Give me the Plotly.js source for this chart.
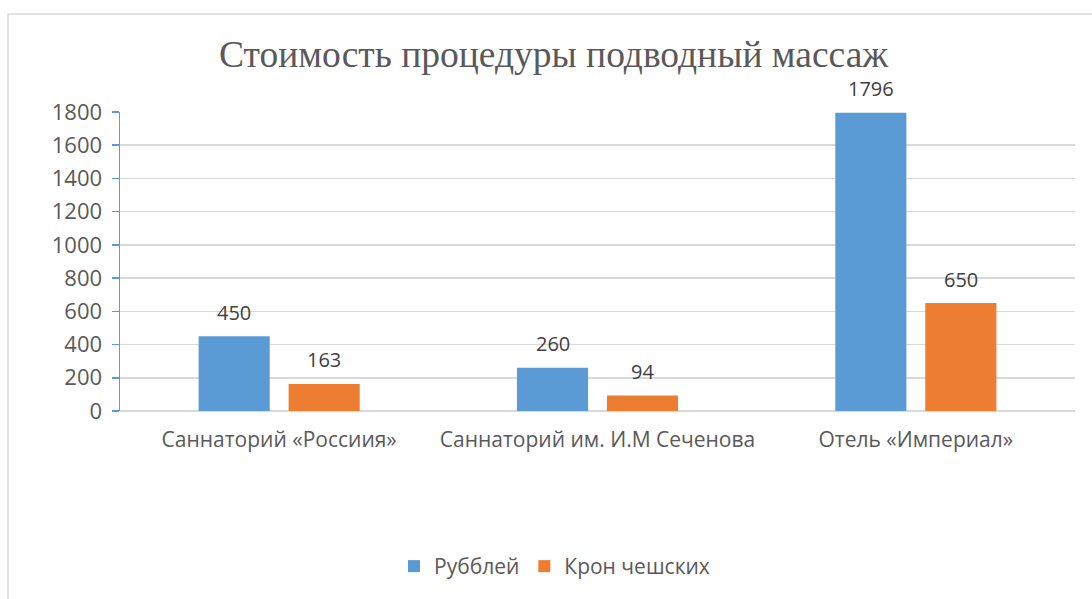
<!DOCTYPE html>
<html>
<head>
<meta charset="utf-8">
<script src="https://cdn.plot.ly/plotly-3.0.1.min.js"></script>
<style>html,body{margin:0;padding:0;background:#fff;}#chart{width:1092px;height:599px;}</style>
</head>
<body>
<div id="chart"></div>
<script>
const categories = ["Саннаторий «Россиия»", "Саннаторий им. И.М Сеченова", "Отель «Империал»"];
const seriesNames = ["Рубблей", "Крон чешских"];
const rubles = [450, 260, 1796];
const crowns = [163, 94, 650];
const colors = ["#5b9bd5", "#ed7d31"];
const titleText = "Стоимость процедуры подводный массаж";
const yTicks = [0, 200, 400, 600, 800, 1000, 1200, 1400, 1600, 1800];

const font = "Open Sans, sans-serif";
const textColor = "#595959";
const bargap = 0.4345;
const bargroupgap = 0.21;

const traces = [rubles, crowns].map((vals, k) => ({
  type: "bar",
  name: seriesNames[k],
  x: categories,
  y: vals,
  marker: {color: colors[k]},
  hoverinfo: "x+y"
}));

const annotations = [];
const slot = (1 - bargap) / 2;
[rubles, crowns].forEach((vals, k) => {
  vals.forEach((v, i) => {
    annotations.push({
      xref: "x", yref: "y",
      x: i + (k === 0 ? -slot / 2 : slot / 2),
      y: v,
      text: String(v),
      showarrow: false,
      yshift: 24,
      font: {family: font, size: 20, color: "#404040"}
    });
  });
});

const layout = {
  width: 1092, height: 599,
  margin: {l: 120, r: 17, t: 112, b: 188},
  paper_bgcolor: "#fff", plot_bgcolor: "#fff",
  title: {text: titleText, x: 0.507, xanchor: "center", y: 0.91, yanchor: "middle",
          font: {family: "Liberation Serif, Times New Roman, serif", size: 37.5, color: textColor}},
  barmode: "group",
  bargap: bargap,
  bargroupgap: bargroupgap,
  showlegend: true,
  legend: {orientation: "h", x: 0.455, xanchor: "center", y: -0.52, yanchor: "middle",
           font: {family: font, size: 21, color: textColor}, itemwidth: 30, traceorder: "normal"},
  xaxis: {type: "category", showgrid: false, showline: false, zeroline: false,
          ticks: "", tickfont: {family: font, size: 21, color: textColor}, ticklabelstandoff: 14},
  yaxis: {range: [0, 1800], tickvals: yTicks, ticktext: yTicks.map(String),
          showgrid: true, gridcolor: "#d9d9d9", gridwidth: 1.5,
          zeroline: true, zerolinecolor: "#d9d9d9", zerolinewidth: 1.5,
          showline: true, linecolor: "#5b9bd5", linewidth: 1.5,
          ticks: "outside", ticklen: 7, tickcolor: "#5b9bd5", tickwidth: 1.5,
          ticklabelstandoff: 5,
          tickfont: {family: font, size: 22, color: textColor}},
  annotations: annotations,
  shapes: [{type: "rect", xref: "paper", yref: "paper",
            x0: (8 - 120) / 955, x1: 1.2, y0: -1, y1: (411 - 14) / 299,
            line: {color: "#d9d9d9", width: 1.5}, fillcolor: "rgba(0,0,0,0)", layer: "below"}]
};

Plotly.newPlot("chart", traces, layout, {displayModeBar: false, staticPlot: true});
</script>
</body>
</html>
